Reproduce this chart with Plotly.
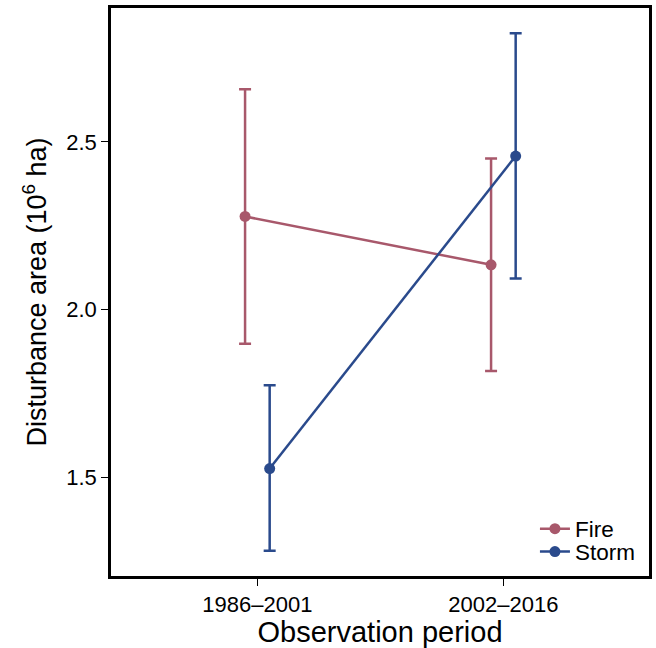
import plotly.graph_objects as go

periods = ["1986\u20132001", "2002\u20132016"]
series_names = ["Fire", "Storm"]
fire_mean = [2.278, 2.134]
fire_upper = [2.657, 2.451]
fire_lower = [1.899, 1.818]
storm_mean = [1.527, 2.458]
storm_upper = [1.775, 2.824]
storm_lower = [1.282, 2.093]
colors = {"Fire": "#a8586b", "Storm": "#2a4a8c"}
dodge = {"Fire": -0.05, "Storm": 0.05}
legend_ref = {"Fire": "legend", "Storm": "legend2"}

fig = go.Figure()
for name, mean, up, lo in [("Fire", fire_mean, fire_upper, fire_lower),
                           ("Storm", storm_mean, storm_upper, storm_lower)]:
    xs = [i + dodge[name] for i in range(len(periods))]
    fig.add_trace(go.Scatter(
        x=xs, y=mean, name=name, mode="lines+markers",
        legend=legend_ref[name],
        line=dict(color=colors[name], width=2.5),
        marker=dict(color=colors[name], size=11),
        error_y=dict(type="data", symmetric=False,
                     array=[u - m for u, m in zip(up, mean)],
                     arrayminus=[m - l for m, l in zip(mean, lo)],
                     color=colors[name], thickness=2.5, width=6),
    ))

font_family = "Liberation Sans, Arial, Helvetica, sans-serif"
leg_common = dict(xanchor="left", yanchor="middle", bgcolor="rgba(0,0,0,0)",
                  font=dict(size=22.5), itemwidth=30, borderwidth=0)
fig.update_layout(
    width=656, height=648,
    margin=dict(l=111, r=4, t=8, b=72),
    paper_bgcolor="white", plot_bgcolor="white",
    font=dict(family=font_family, color="black", size=22),
    showlegend=True,
    legend=dict(x=0.788, y=0.0827, **leg_common),
    legend2=dict(x=0.788, y=0.0423, **leg_common),
    xaxis=dict(range=[-0.595, 1.592], tickmode="array", tickvals=[0, 1],
               ticktext=periods, ticks="outside", ticklen=7, tickwidth=1,
               tickcolor="black", showgrid=False, zeroline=False,
               showline=True, linecolor="black", linewidth=2.5, mirror=True,
               tickfont=dict(size=22),
               title=dict(text="Observation period", font=dict(size=29), standoff=6)),
    yaxis=dict(range=[1.207, 2.899], tickmode="array", tickvals=[1.5, 2.0, 2.5],
               ticktext=["1.5", "2.0", "2.5"], ticks="outside", ticklen=7, tickwidth=1,
               tickcolor="black", showgrid=False, zeroline=False,
               showline=True, linecolor="black", linewidth=2.5, mirror=True,
               tickfont=dict(size=22),
               title=dict(text="Disturbance area (10<sup>6</sup> ha)", font=dict(size=27), standoff=12)),
)

fig.write_html("out.html", config={"displayModeBar": False},
               post_script="document.body.style.margin='0';document.body.style.padding='0';")
